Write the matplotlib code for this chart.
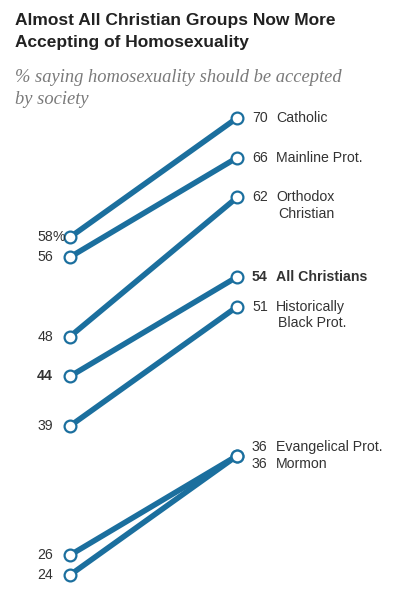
import matplotlib
matplotlib.use("Agg")
import matplotlib.pyplot as plt

# DATA
groups = ['Catholic', 'Mainline Prot.', 'Orthodox\nChristian', 'All Christians',
          'Historically\nBlack Prot.', 'Evangelical Prot.', 'Mormon']
before = [58, 56, 48, 44, 39, 26, 24]
after = [70, 66, 62, 54, 51, 36, 36]
bold_group = 'All Christians'

blue = '#1b6f9e'
txt = '#333333'

W, H = 398, 599
fig = plt.figure(figsize=(W / 100, H / 100), dpi=100)

# axes placed so that x=0 -> 70px, x=1 -> 237px, y=24 -> 575px, y=70 -> 118px
x0, x1 = 70, 237
ytop, ybot = 118, 575
ax = fig.add_axes([x0 / W, 1 - ybot / H, (x1 - x0) / W, (ybot - ytop) / H])
ax.set_xlim(0, 1)
ax.set_ylim(24, 70)
ax.axis('off')

for g, b, a in zip(groups, before, after):
    ax.plot([0, 1], [b, a], color=blue, lw=4.0, solid_capstyle='butt', clip_on=False, zorder=2)
    ax.plot([0, 1], [b, a], ls='none', marker='o', ms=8.5, mfc='white', mec=blue, mew=1.6,
            clip_on=False, zorder=3)

# px -> data helpers for label positions
def dx(px):
    return (px - x0) / (x1 - x0)

def dy(px):
    return px / (ybot - ytop) * (70 - 24)

lab_font = dict(family='Liberation Sans', fontsize=10.2, color=txt)

# left labels
for g, b in zip(groups, before):
    w = 'bold' if g == bold_group else 'normal'
    ax.text(dx(53), b, str(b), ha='right', va='center', fontweight=w, **lab_font)
ax.text(dx(52.5), before[0], '%', ha='left', va='center', **lab_font)

# right labels
for g, a in zip(groups, after):
    w = 'bold' if g == bold_group else 'normal'
    yoff = 0
    if g == 'Evangelical Prot.':
        yoff = dy(8.5)
    elif g == 'Mormon':
        yoff = -dy(8.5)
    ax.text(dx(252), a + yoff, str(a), ha='left', va='center', fontweight=w, **lab_font)
    lines = g.split('\n')
    for i, ln in enumerate(lines):
        ax.text(dx(276 + 2 * i), a + yoff - i * dy(16.5), ln, ha='left', va='center',
                fontweight=w, **lab_font)

# title and subtitle
fig.text(15 / W, 1 - 20 / H, 'Almost All Christian Groups Now More', ha='left', va='center',
         family='Liberation Sans', fontweight='bold', fontsize=12.55, color='#222222')
fig.text(15 / W, 1 - 43 / H, 'Accepting of Homosexuality', ha='left', va='center',
         family='Liberation Sans', fontweight='bold', fontsize=12.55, color='#222222')
fig.text(15 / W, 1 - 77 / H, '% saying homosexuality should be accepted', ha='left', va='center',
         family='Liberation Serif', style='italic', fontsize=13.3, color='#7a7a7a')
fig.text(15 / W, 1 - 99 / H, 'by society', ha='left', va='center',
         family='Liberation Serif', style='italic', fontsize=13.3, color='#7a7a7a')

fig.savefig('out.png', dpi=100)
